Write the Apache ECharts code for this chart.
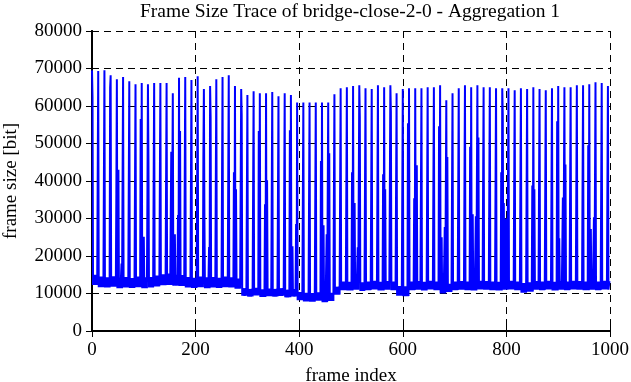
<!DOCTYPE html>
<html lang="en">

<head>
    <meta charset="UTF-8">
    <title>Frame Size Trace</title>
    <style>
        body { margin: 0; background: #fff; }
        #main { width: 631px; height: 382px; }
    </style>
</head>

<body>
    <div id="main"></div>
</body>

</html>
<script src="https://cdn.jsdelivr.net/npm/echarts/dist/echarts.min.js"></script>
<script>
    // GOP = 12 frames (I B B P B B P B B P B B), one I-frame every 12 frames
    var gopLength = 12;
    var frameCount = 1000;

    // I-frame sizes [bit], one per GOP (frames 0, 12, 24, ... 996)
    var iFrameSizes = [
        69500, 69300, 69500, 68200, 67100, 67700, 66600, 65800, 66100, 65800,
        66100, 66100, 66100, 63400, 67500, 67700, 66900, 67900, 64500, 65300,
        67100, 67700, 68200, 65300, 64500, 62900, 63900, 63400, 63400, 63700,
        62600, 63400, 62900, 60900, 60900, 60900, 60900, 60900, 60900, 63100,
        64700, 65000, 65300, 65500, 64700, 64500, 65500, 65000, 65500, 63400,
        64500, 64700, 64700, 64700, 65000, 65000, 65500, 61500, 63400, 64700,
        65500, 65000, 65500, 65000, 65000, 64700, 64700, 64700, 64200, 64700,
        64500, 65000, 64500, 64200, 64700, 65300, 65000, 65000, 65500, 65500,
        65800, 66300, 66100, 65300
    ];

    // P-frame level per GOP
    var pFrameSizes = [
        15000, 14500, 14300, 14600, 14200, 14400, 14100, 14500, 14300, 14400,
        14800, 15100, 15300, 15000, 14900, 14400, 14200, 14500, 14300, 14400,
        14200, 14500, 14300, 14000, 11400, 11200, 11500, 11100, 11300, 11200,
        11400, 11000, 11200, 10400, 10200, 10100, 10300, 9900, 10200, 11800,
        13200, 13100, 13300, 13000, 13200, 13400, 13100, 13300, 13200, 12000,
        11900, 13200, 13300, 13100, 13400, 13200, 12900, 12600, 13200, 13300,
        13200, 13100, 13400, 13300, 13200, 13100, 13300, 13400, 13200, 12800,
        13000, 13300, 13200, 13400, 13100, 13300, 13200, 13400, 13300, 13200,
        13300, 13200, 13400, 13300
    ];

    // B-frame level per GOP
    var bFrameSizes = [
        12300, 11700, 11600, 11800, 11400, 11600, 11500, 11700, 11400, 11600,
        11900, 12200, 12300, 12100, 12000, 11600, 11500, 11700, 11400, 11600,
        11500, 11700, 11600, 11300, 9400, 9200, 9500, 9100, 9300, 9200,
        9400, 9000, 9200, 8200, 7900, 7800, 8100, 7700, 8000, 9700,
        10900, 10800, 11000, 10700, 10900, 11100, 10800, 11000, 10900, 9400,
        9300, 10900, 11000, 10800, 11100, 10900, 10000, 10400, 10900, 11000,
        10900, 10800, 11100, 11000, 10900, 10800, 11000, 11100, 10900, 10200,
        10500, 11000, 10900, 11100, 10800, 11000, 10900, 11100, 11000, 10900,
        11000, 10900, 11100, 11000
    ];

    // big non-I frames (scene changes): [frame index, size]
    var largeFrames = [
        [1, 62400], [35, 64800], [47, 36800], [51, 43000], [57, 18000],
        [94, 56500], [100, 25100], [107, 36500], [109, 45300], [153, 47800],
        [160, 25800], [166, 30900], [170, 53300], [215, 45800], [217, 31100],
        [226, 22400], [229, 57000], [274, 42300], [278, 37800], [289, 57500],
        [322, 53300], [334, 33800], [338, 40200], [382, 53500], [387, 22600],
        [394, 28500], [442, 45300], [447, 28200], [453, 25800], [458, 47400],
        [502, 42300], [507, 34100], [513, 22300], [517, 57000], [562, 41800],
        [566, 37800], [577, 58300], [610, 55400], [622, 35400], [627, 44200],
        [670, 54600], [675, 25000], [681, 27700], [686, 46400], [730, 49100],
        [735, 31100], [741, 30600], [746, 51600], [790, 42300], [793, 57500],
        [795, 34100], [799, 30000], [850, 38800], [854, 37800], [898, 55900],
        [902, 24700], [909, 35600], [914, 44400], [958, 49500], [963, 27200],
        [969, 30300]
    ];

    var xTicks = [0, 200, 400, 600, 800, 1000];
    var yTicks = [0, 10000, 20000, 30000, 40000, 50000, 60000, 70000, 80000];

    // build the trace
    var sizes = [];
    for (var f = 0; f < frameCount; f++) {
        var g = Math.floor(f / gopLength);
        var pos = f % gopLength;
        if (pos === 0) sizes[f] = iFrameSizes[g];
        else if (pos % 3 === 0) sizes[f] = pFrameSizes[g];
        else sizes[f] = bFrameSizes[g];
    }
    largeFrames.forEach(function (d) { sizes[d[0]] = d[1]; });
    var trace = sizes.map(function (v, i) { return [i, v]; });

    var font = 'Liberation Serif';
    var plain = function (v) { return String(v); };
    var tickStyle = { show: true, inside: true, length: 6, lineStyle: { color: '#000', width: 1 } };
    var gridLine = { show: true, lineStyle: { color: '#000', type: [7, 5], width: 1 } };

    var option = {
        animation: false,
        backgroundColor: '#fff',
        title: {
            text: 'Frame Size Trace of bridge-close-2-0 - Aggregation 1',
            left: 135,
            top: -3,
            textStyle: { fontFamily: font, fontSize: 19.5, fontWeight: 'normal', color: '#000' }
        },
        grid: { left: 92, right: 21, top: 31, bottom: 51, containLabel: false, outerBoundsMode: 'none' },
        xAxis: [{
            type: 'value', min: xTicks[0], max: xTicks[xTicks.length - 1], interval: 200,
            name: 'frame index', nameLocation: 'middle', nameGap: 36,
            nameTextStyle: { fontFamily: font, fontSize: 19, color: '#000' },
            axisLine: { lineStyle: { color: '#000', width: 2 } },
            axisTick: tickStyle,
            axisLabel: { fontFamily: font, fontSize: 19, color: '#000', margin: 10, formatter: plain },
            splitLine: gridLine
        }, {
            type: 'value', position: 'top', min: xTicks[0], max: xTicks[xTicks.length - 1], interval: 200,
            axisLine: { lineStyle: { color: '#000', width: 2 } },
            axisTick: tickStyle,
            axisLabel: { show: false },
            splitLine: { show: false }
        }],
        yAxis: [{
            type: 'value', min: yTicks[0], max: yTicks[yTicks.length - 1], interval: 10000,
            name: 'frame size [bit]', nameLocation: 'middle', nameGap: 71,
            nameTextStyle: { fontFamily: font, fontSize: 19, color: '#000' },
            axisLine: { show: true, lineStyle: { color: '#000', width: 2 } },
            axisTick: tickStyle,
            axisLabel: { fontFamily: font, fontSize: 19, color: '#000', margin: 10, formatter: plain },
            splitLine: gridLine
        }, {
            type: 'value', position: 'right', min: yTicks[0], max: yTicks[yTicks.length - 1], interval: 10000,
            axisLine: { show: true, lineStyle: { color: '#000', width: 2 } },
            axisTick: tickStyle,
            axisLabel: { show: false },
            splitLine: { show: false }
        }],
        series: [{
            type: 'line',
            data: trace,
            showSymbol: false,
            lineStyle: { color: '#0000ff', width: 2 },
            itemStyle: { color: '#0000ff' }
        }]
    };

    var mainMap = echarts.init(document.getElementById('main'));
    mainMap.setOption(option);
</script>
